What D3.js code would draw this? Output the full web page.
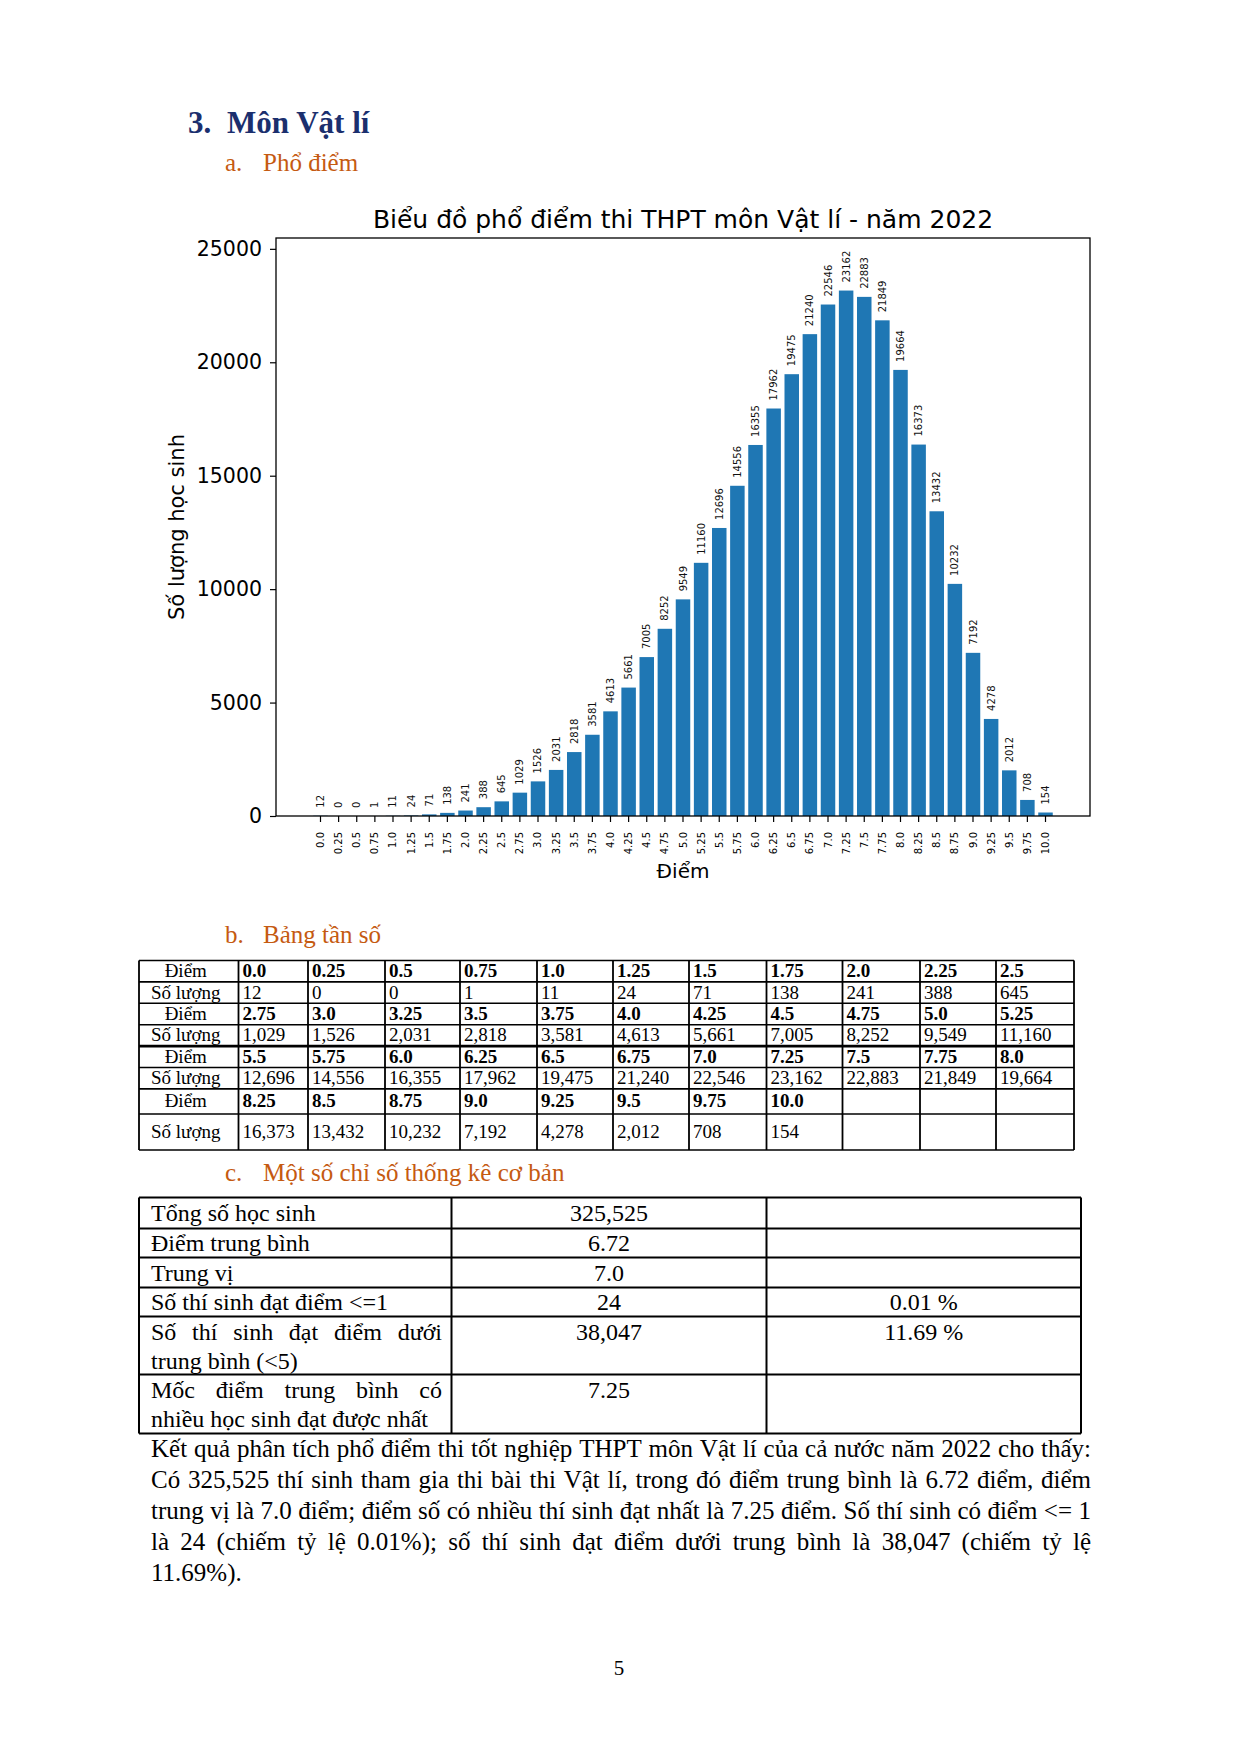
<!DOCTYPE html>
<html>
<head>
<meta charset="utf-8">
<script src="https://cdn.jsdelivr.net/npm/d3@7"></script>
<style>
  body { margin: 0; background: #fff; }
  svg { display: block; }
</style>
</head>
<body>
<script>
// score steps and number of students per step
const scores = ["0.0","0.25","0.5","0.75","1.0","1.25","1.5","1.75","2.0","2.25","2.5",
  "2.75","3.0","3.25","3.5","3.75","4.0","4.25","4.5","4.75","5.0","5.25",
  "5.5","5.75","6.0","6.25","6.5","6.75","7.0","7.25","7.5","7.75","8.0",
  "8.25","8.5","8.75","9.0","9.25","9.5","9.75","10.0"];
const counts = [12,0,0,1,11,24,71,138,241,388,645,
  1029,1526,2031,2818,3581,4613,5661,7005,8252,9549,11160,
  12696,14556,16355,17962,19475,21240,22546,23162,22883,21849,19664,
  16373,13432,10232,7192,4278,2012,708,154];
const yTicks = [0,5000,10000,15000,20000,25000];

const statLabels = [["Tổng số học sinh"],["Điểm trung bình"],["Trung vị"],["Số thí sinh đạt điểm <=1"],
  ["Số thí sinh đạt điểm dưới","trung bình (<5)"],["Mốc điểm trung bình có","nhiều học sinh đạt được nhất"]];
const statValues = ["325,525","6.72","7.0","24","38,047","7.25"];
const statPercents = ["","","","0.01 %","11.69 %",""];

const paragraph = [
  "Kết quả phân tích phổ điểm thi tốt nghiệp THPT môn Vật lí của cả nước năm 2022 cho thấy:",
  "Có 325,525 thí sinh tham gia thi bài thi Vật lí, trong đó điểm trung bình là 6.72 điểm, điểm",
  "trung vị là 7.0 điểm; điểm số có nhiều thí sinh đạt nhất là 7.25 điểm. Số thí sinh có điểm <= 1",
  "là 24 (chiếm tỷ lệ 0.01%); số thí sinh đạt điểm dưới trung bình là 38,047 (chiếm tỷ lệ",
  "11.69%)."
];

const W = 1240, H = 1754;
const serif = "'Liberation Serif', 'Times New Roman', serif";
const sans = "'DejaVu Sans', sans-serif";
const orange = "#c55a11";

const svg = d3.select("body").append("svg").attr("width", W).attr("height", H);
svg.append("rect").attr("width", W).attr("height", H).attr("fill", "#fff");

// lay words of one line from x0 to x1 (spread = justified)
function justify(g, text, x0, x1, y, size, spread) {
  const words = text.split(" ");
  const nodes = words.map(w => g.append("text")
    .attr("y", y).style("font-family", serif).style("font-size", size + "px").text(w));
  let widths = nodes.map(n => n.node().getComputedTextLength());
  let total = d3.sum(widths);
  const minGap = size * 0.2;
  if (total + minGap * (words.length - 1) > x1 - x0) {
    // squeeze the line if it does not fit
    const k = (x1 - x0 - minGap * (words.length - 1)) / total;
    nodes.forEach((n, i) => n.attr("textLength", widths[i] * k).attr("lengthAdjust", "spacingAndGlyphs"));
    widths = widths.map(w => w * k);
    total = d3.sum(widths);
  }
  let gap = size * 0.25;
  if (spread && words.length > 1) gap = (x1 - x0 - total) / (words.length - 1);
  let cx = x0;
  nodes.forEach((n, i) => { n.attr("x", cx); cx += widths[i] + gap; });
}

// headings
svg.append("text").attr("x", 188).attr("y", 133)
  .style("font-family", serif).style("font-size", "31px").style("font-weight", "bold")
  .attr("fill", "#1b2f6e").text("3.");
svg.append("text").attr("x", 227).attr("y", 133)
  .style("font-family", serif).style("font-size", "31px").style("font-weight", "bold")
  .attr("fill", "#1b2f6e").text("Môn Vật lí");

function subHeading(letter, text, y) {
  svg.append("text").attr("x", 225).attr("y", y).style("font-family", serif)
    .style("font-size", "25px").attr("fill", orange).text(letter);
  svg.append("text").attr("x", 263).attr("y", y).style("font-family", serif)
    .style("font-size", "25px").attr("fill", orange).text(text);
}
subHeading("a.", "Phổ điểm", 171);
subHeading("b.", "Bảng tần số", 943);
subHeading("c.", "Một số chỉ số thống kê cơ bản", 1181);

// ---- chart ----
const plot = { left: 276, right: 1090, top: 238, bottom: 816 };
const x = d3.scaleBand().domain(scores).range([plot.left, plot.right])
  .paddingInner(0.2).paddingOuter(2.055);
const y = d3.scaleLinear().domain([0, d3.max(counts) * 1.1]).range([plot.bottom, plot.top]);

const chart = svg.append("g");

chart.selectAll("rect.bar").data(counts).join("rect")
  .attr("class", "bar")
  .attr("x", (d, i) => x(scores[i]))
  .attr("y", d => y(d))
  .attr("width", x.bandwidth())
  .attr("height", d => y(0) - y(d))
  .attr("fill", "#1f77b4");

chart.selectAll("text.val").data(counts).join("text")
  .attr("class", "val")
  .attr("transform", (d, i) => `translate(${x(scores[i]) + x.bandwidth() / 2},${y(d) - 8}) rotate(-90)`)
  .attr("dy", "0.35em")
  .style("font-family", sans).style("font-size", "10px").attr("fill", "#111")
  .text(d => d);

const yAxis = d3.axisLeft(y).tickValues(yTicks).tickSize(6).tickPadding(8).tickFormat(d3.format("d"));
chart.append("g").attr("transform", `translate(${plot.left},0)`).call(yAxis)
  .call(g => g.select(".domain").remove())
  .call(g => g.selectAll("text").style("font-family", sans).style("font-size", "20.5px").attr("fill", "#000"))
  .call(g => g.selectAll("line").attr("stroke", "#000").attr("stroke-width", 1.2));

const xAxis = d3.axisBottom(x).tickSize(6);
chart.append("g").attr("transform", `translate(0,${plot.bottom})`).call(xAxis)
  .call(g => g.select(".domain").remove())
  .call(g => g.selectAll("line").attr("stroke", "#000").attr("stroke-width", 1.2))
  .call(g => g.selectAll("text")
    .attr("transform", "rotate(-90)").attr("text-anchor", "end")
    .attr("x", -16).attr("y", 0).attr("dy", "0.35em")
    .style("font-family", sans).style("font-size", "10px").attr("fill", "#000"));

chart.append("rect")
  .attr("x", plot.left).attr("y", plot.top)
  .attr("width", plot.right - plot.left).attr("height", plot.bottom - plot.top)
  .attr("fill", "none").attr("stroke", "#000").attr("stroke-width", 1.3);

chart.append("text").attr("x", (plot.left + plot.right) / 2).attr("y", 228)
  .attr("text-anchor", "middle").style("font-family", sans).style("font-size", "25px")
  .text("Biểu đồ phổ điểm thi THPT môn Vật lí - năm 2022");
chart.append("text").attr("x", (plot.left + plot.right) / 2).attr("y", 878)
  .attr("text-anchor", "middle").style("font-family", sans).style("font-size", "20px")
  .text("Điểm");
chart.append("text")
  .attr("transform", `translate(184,${(plot.top + plot.bottom) / 2}) rotate(-90)`)
  .attr("text-anchor", "middle").style("font-family", sans).style("font-size", "21px")
  .text("Số lượng học sinh");

// ---- frequency table ----
const ft = svg.append("g");
const ftCols = [139, 238.5, 308, 385, 460, 537, 613, 689, 766.5, 842.5, 920, 996, 1074];
const ftRows = [960.5, 981.9, 1003.3, 1024.7, 1046.1, 1067.5, 1088.9, 1114, 1150];
const fmt = d3.format(",");
const ftSize = 19;

for (let b = 0; b < 4; b++) {
  const sc = scores.slice(b * 11, b * 11 + 11);
  const ct = counts.slice(b * 11, b * 11 + 11);
  const r0 = b * 2;
  const yH = (ftRows[r0] + ftRows[r0 + 1]) / 2 + 6;
  const yC = (ftRows[r0 + 1] + ftRows[r0 + 2]) / 2 + 6;
  ft.append("text").attr("x", (ftCols[0] + ftCols[1]) / 2 - 3).attr("y", yH).attr("text-anchor", "middle")
    .style("font-family", serif).style("font-size", ftSize + "px").text("Điểm");
  ft.append("text").attr("x", (ftCols[0] + ftCols[1]) / 2 - 3).attr("y", yC).attr("text-anchor", "middle")
    .style("font-family", serif).style("font-size", ftSize + "px").text("Số lượng");
  sc.forEach((s, i) => {
    ft.append("text").attr("x", ftCols[i + 1] + 4).attr("y", yH)
      .style("font-family", serif).style("font-size", ftSize + "px").style("font-weight", "bold").text(s);
    ft.append("text").attr("x", ftCols[i + 1] + 4).attr("y", yC)
      .style("font-family", serif).style("font-size", ftSize + "px").text(fmt(ct[i]));
  });
}
ftRows.forEach((ry, i) => ft.append("line").attr("x1", ftCols[0]).attr("x2", ftCols[12])
  .attr("y1", ry).attr("y2", ry).attr("stroke", "#000").attr("stroke-width", i === 4 ? 2.6 : 1.6));
ftCols.forEach(cx => ft.append("line").attr("x1", cx).attr("x2", cx)
  .attr("y1", ftRows[0]).attr("y2", ftRows[ftRows.length - 1]).attr("stroke", "#000").attr("stroke-width", 1.8));

// ---- basic statistics table ----
const st = svg.append("g");
const stCols = [139, 451.5, 766.5, 1081];
const stRows = [1197.5, 1228.5, 1257.5, 1287.5, 1316.5, 1374.5, 1433.5];
const stSize = 24;
stRows.slice(0, -1).forEach((top, i) => {
  const lines = statLabels[i];
  const bottom = stRows[i + 1];
  const base = lines.length > 1 ? top + 23 : (top + bottom) / 2 + 8;
  lines.forEach((ln, j) => {
    const spread = lines.length > 1 && j < lines.length - 1;
    justify(st, ln, 151, 442, base + j * 29, stSize, spread);
  });
  st.append("text").attr("x", (stCols[1] + stCols[2]) / 2).attr("y", base).attr("text-anchor", "middle")
    .style("font-family", serif).style("font-size", stSize + "px").text(statValues[i]);
  st.append("text").attr("x", (stCols[2] + stCols[3]) / 2).attr("y", base).attr("text-anchor", "middle")
    .style("font-family", serif).style("font-size", stSize + "px").text(statPercents[i]);
});
stRows.forEach(ry => st.append("line").attr("x1", stCols[0]).attr("x2", stCols[3])
  .attr("y1", ry).attr("y2", ry).attr("stroke", "#000").attr("stroke-width", 2));
stCols.forEach(cx => st.append("line").attr("x1", cx).attr("x2", cx)
  .attr("y1", stRows[0]).attr("y2", stRows[stRows.length - 1]).attr("stroke", "#000").attr("stroke-width", 2));

// ---- paragraph ----
const para = svg.append("g");
paragraph.forEach((ln, i) => {
  justify(para, ln, 151, 1091, 1457 + i * 31, 25, i < paragraph.length - 1);
});

svg.append("text").attr("x", 619).attr("y", 1675).attr("text-anchor", "middle")
  .style("font-family", serif).style("font-size", "21px").text("5");
</script>
</body>
</html>
